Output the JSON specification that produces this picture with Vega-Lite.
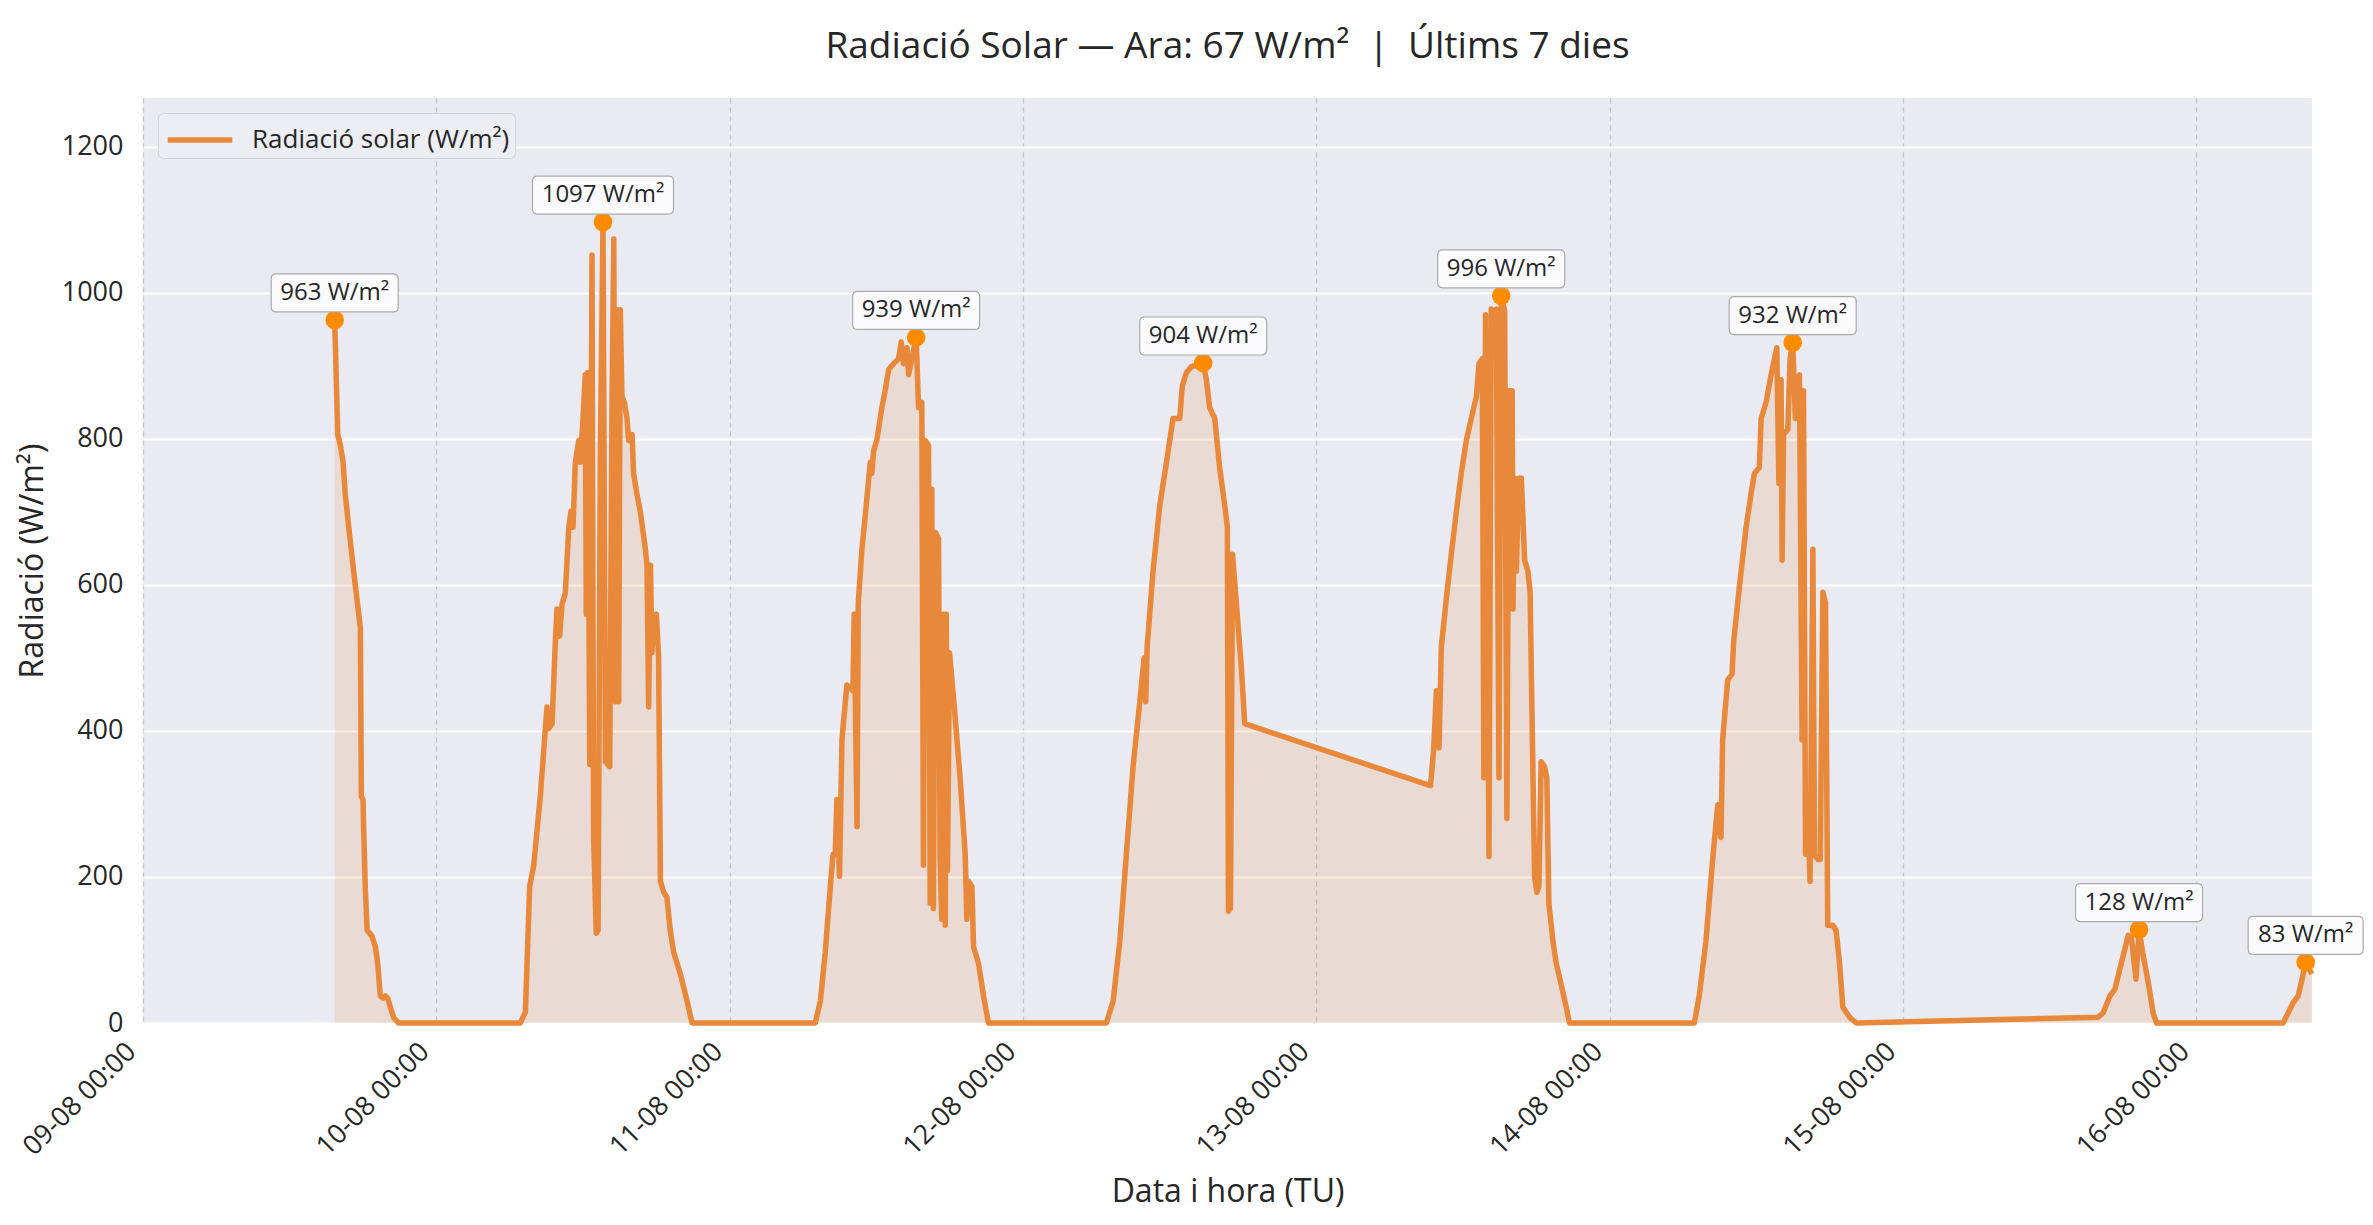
{
  "$schema": "https://vega.github.io/schema/vega-lite/v6.json",
  "width": 2169,
  "height": 925,
  "autosize": {"type": "none"},
  "padding": {"left": 143, "top": 98, "right": 61, "bottom": 202},
  "background": "white",
  "config": {
    "font": "Open Sans",
    "view": {"fill": "#EAEAF2", "stroke": null},
    "axis": {
      "domain": false,
      "ticks": false,
      "labelFontSize": 27,
      "labelColor": "#262626",
      "titleFontSize": 32,
      "titleFontWeight": "normal",
      "titleColor": "#262626"
    }
  },
  "title": {
    "text": "Radiació Solar — Ara: 67 W/m² \u00a0|\u00a0 Últims 7 dies",
    "fontSize": 37,
    "fontWeight": "normal",
    "color": "#262626",
    "anchor": "middle",
    "offset": 32
  },
  "data": {
    "format": {"parse": {"t": "date"}},
    "values": [
      {"t": "2025-08-09T15:41Z", "v": 963},
      {"t": "2025-08-09T15:56Z", "v": 806},
      {"t": "2025-08-09T16:09Z", "v": 791},
      {"t": "2025-08-09T16:22Z", "v": 769},
      {"t": "2025-08-09T16:33Z", "v": 724},
      {"t": "2025-08-09T16:50Z", "v": 679},
      {"t": "2025-08-09T17:14Z", "v": 619},
      {"t": "2025-08-09T17:39Z", "v": 560},
      {"t": "2025-08-09T17:47Z", "v": 541},
      {"t": "2025-08-09T17:52Z", "v": 310},
      {"t": "2025-08-09T18:00Z", "v": 306},
      {"t": "2025-08-09T18:03Z", "v": 269},
      {"t": "2025-08-09T18:11Z", "v": 187},
      {"t": "2025-08-09T18:20Z", "v": 127},
      {"t": "2025-08-09T18:44Z", "v": 119},
      {"t": "2025-08-09T19:01Z", "v": 104},
      {"t": "2025-08-09T19:12Z", "v": 82},
      {"t": "2025-08-09T19:25Z", "v": 37},
      {"t": "2025-08-09T19:38Z", "v": 34},
      {"t": "2025-08-09T19:50Z", "v": 37},
      {"t": "2025-08-09T20:01Z", "v": 34},
      {"t": "2025-08-09T20:14Z", "v": 22},
      {"t": "2025-08-09T20:31Z", "v": 7},
      {"t": "2025-08-09T20:55Z", "v": 0},
      {"t": "2025-08-10T06:52Z", "v": 0},
      {"t": "2025-08-10T07:17Z", "v": 15},
      {"t": "2025-08-10T07:38Z", "v": 187},
      {"t": "2025-08-10T07:58Z", "v": 216},
      {"t": "2025-08-10T08:31Z", "v": 313},
      {"t": "2025-08-10T09:03Z", "v": 433},
      {"t": "2025-08-10T09:11Z", "v": 403},
      {"t": "2025-08-10T09:28Z", "v": 410},
      {"t": "2025-08-10T09:44Z", "v": 522},
      {"t": "2025-08-10T09:52Z", "v": 567},
      {"t": "2025-08-10T10:05Z", "v": 530},
      {"t": "2025-08-10T10:17Z", "v": 574},
      {"t": "2025-08-10T10:33Z", "v": 589},
      {"t": "2025-08-10T10:50Z", "v": 679},
      {"t": "2025-08-10T11:01Z", "v": 701},
      {"t": "2025-08-10T11:11Z", "v": 679},
      {"t": "2025-08-10T11:22Z", "v": 768},
      {"t": "2025-08-10T11:39Z", "v": 798},
      {"t": "2025-08-10T11:47Z", "v": 768},
      {"t": "2025-08-10T12:00Z", "v": 828},
      {"t": "2025-08-10T12:11Z", "v": 888},
      {"t": "2025-08-10T12:16Z", "v": 560},
      {"t": "2025-08-10T12:23Z", "v": 891},
      {"t": "2025-08-10T12:33Z", "v": 354},
      {"t": "2025-08-10T12:44Z", "v": 1052},
      {"t": "2025-08-10T12:52Z", "v": 254},
      {"t": "2025-08-10T13:05Z", "v": 123},
      {"t": "2025-08-10T13:14Z", "v": 127},
      {"t": "2025-08-10T13:25Z", "v": 783},
      {"t": "2025-08-10T13:38Z", "v": 1097},
      {"t": "2025-08-10T13:50Z", "v": 358},
      {"t": "2025-08-10T14:11Z", "v": 351},
      {"t": "2025-08-10T14:22Z", "v": 843},
      {"t": "2025-08-10T14:31Z", "v": 1074},
      {"t": "2025-08-10T14:39Z", "v": 440},
      {"t": "2025-08-10T14:47Z", "v": 977},
      {"t": "2025-08-10T14:55Z", "v": 440},
      {"t": "2025-08-10T15:03Z", "v": 977},
      {"t": "2025-08-10T15:11Z", "v": 858},
      {"t": "2025-08-10T15:23Z", "v": 850},
      {"t": "2025-08-10T15:36Z", "v": 828},
      {"t": "2025-08-10T15:44Z", "v": 798},
      {"t": "2025-08-10T16:01Z", "v": 806},
      {"t": "2025-08-10T16:08Z", "v": 753},
      {"t": "2025-08-10T16:25Z", "v": 724},
      {"t": "2025-08-10T16:41Z", "v": 701},
      {"t": "2025-08-10T17:06Z", "v": 649},
      {"t": "2025-08-10T17:14Z", "v": 627},
      {"t": "2025-08-10T17:22Z", "v": 433},
      {"t": "2025-08-10T17:31Z", "v": 627},
      {"t": "2025-08-10T17:38Z", "v": 507},
      {"t": "2025-08-10T17:47Z", "v": 552},
      {"t": "2025-08-10T18:00Z", "v": 560},
      {"t": "2025-08-10T18:11Z", "v": 500},
      {"t": "2025-08-10T18:20Z", "v": 194},
      {"t": "2025-08-10T18:36Z", "v": 179},
      {"t": "2025-08-10T18:52Z", "v": 172},
      {"t": "2025-08-10T19:08Z", "v": 127},
      {"t": "2025-08-10T19:25Z", "v": 97},
      {"t": "2025-08-10T19:58Z", "v": 67},
      {"t": "2025-08-10T20:31Z", "v": 30},
      {"t": "2025-08-10T20:55Z", "v": 0},
      {"t": "2025-08-11T07:00Z", "v": 0},
      {"t": "2025-08-11T07:25Z", "v": 30},
      {"t": "2025-08-11T07:49Z", "v": 97},
      {"t": "2025-08-11T08:14Z", "v": 187},
      {"t": "2025-08-11T08:27Z", "v": 231},
      {"t": "2025-08-11T08:38Z", "v": 231},
      {"t": "2025-08-11T08:46Z", "v": 306},
      {"t": "2025-08-11T08:59Z", "v": 201},
      {"t": "2025-08-11T09:11Z", "v": 388},
      {"t": "2025-08-11T09:35Z", "v": 463},
      {"t": "2025-08-11T10:05Z", "v": 455},
      {"t": "2025-08-11T10:11Z", "v": 560},
      {"t": "2025-08-11T10:25Z", "v": 269},
      {"t": "2025-08-11T10:31Z", "v": 575},
      {"t": "2025-08-11T10:49Z", "v": 649},
      {"t": "2025-08-11T11:05Z", "v": 694},
      {"t": "2025-08-11T11:30Z", "v": 768},
      {"t": "2025-08-11T11:38Z", "v": 753},
      {"t": "2025-08-11T11:46Z", "v": 783},
      {"t": "2025-08-11T12:02Z", "v": 798},
      {"t": "2025-08-11T12:27Z", "v": 843},
      {"t": "2025-08-11T12:43Z", "v": 866},
      {"t": "2025-08-11T13:00Z", "v": 895},
      {"t": "2025-08-11T13:24Z", "v": 903},
      {"t": "2025-08-11T13:49Z", "v": 910},
      {"t": "2025-08-11T14:02Z", "v": 933},
      {"t": "2025-08-11T14:13Z", "v": 903},
      {"t": "2025-08-11T14:30Z", "v": 925},
      {"t": "2025-08-11T14:38Z", "v": 888},
      {"t": "2025-08-11T14:54Z", "v": 910},
      {"t": "2025-08-11T15:15Z", "v": 939},
      {"t": "2025-08-11T15:27Z", "v": 843},
      {"t": "2025-08-11T15:43Z", "v": 850},
      {"t": "2025-08-11T15:51Z", "v": 216},
      {"t": "2025-08-11T15:59Z", "v": 798},
      {"t": "2025-08-11T16:16Z", "v": 791},
      {"t": "2025-08-11T16:24Z", "v": 164},
      {"t": "2025-08-11T16:32Z", "v": 731},
      {"t": "2025-08-11T16:40Z", "v": 157},
      {"t": "2025-08-11T16:49Z", "v": 672},
      {"t": "2025-08-11T17:05Z", "v": 664},
      {"t": "2025-08-11T17:13Z", "v": 224},
      {"t": "2025-08-11T17:21Z", "v": 142},
      {"t": "2025-08-11T17:30Z", "v": 560},
      {"t": "2025-08-11T17:38Z", "v": 134},
      {"t": "2025-08-11T17:43Z", "v": 560},
      {"t": "2025-08-11T17:49Z", "v": 209},
      {"t": "2025-08-11T17:59Z", "v": 507},
      {"t": "2025-08-11T18:18Z", "v": 448},
      {"t": "2025-08-11T18:51Z", "v": 336},
      {"t": "2025-08-11T19:16Z", "v": 231},
      {"t": "2025-08-11T19:24Z", "v": 142},
      {"t": "2025-08-11T19:32Z", "v": 194},
      {"t": "2025-08-11T19:49Z", "v": 187},
      {"t": "2025-08-11T19:57Z", "v": 104},
      {"t": "2025-08-11T20:21Z", "v": 82},
      {"t": "2025-08-11T20:46Z", "v": 37},
      {"t": "2025-08-11T21:10Z", "v": 0},
      {"t": "2025-08-12T06:49Z", "v": 0},
      {"t": "2025-08-12T07:22Z", "v": 30},
      {"t": "2025-08-12T07:55Z", "v": 112},
      {"t": "2025-08-12T08:27Z", "v": 231},
      {"t": "2025-08-12T09:00Z", "v": 351},
      {"t": "2025-08-12T09:33Z", "v": 440},
      {"t": "2025-08-12T09:54Z", "v": 500},
      {"t": "2025-08-12T10:02Z", "v": 440},
      {"t": "2025-08-12T10:09Z", "v": 515},
      {"t": "2025-08-12T10:38Z", "v": 619},
      {"t": "2025-08-12T11:11Z", "v": 709},
      {"t": "2025-08-12T11:44Z", "v": 768},
      {"t": "2025-08-12T12:16Z", "v": 828},
      {"t": "2025-08-12T12:49Z", "v": 828},
      {"t": "2025-08-12T13:02Z", "v": 873},
      {"t": "2025-08-12T13:22Z", "v": 891},
      {"t": "2025-08-12T13:46Z", "v": 899},
      {"t": "2025-08-12T14:44Z", "v": 904},
      {"t": "2025-08-12T15:00Z", "v": 881},
      {"t": "2025-08-12T15:16Z", "v": 843},
      {"t": "2025-08-12T15:41Z", "v": 828},
      {"t": "2025-08-12T16:05Z", "v": 761},
      {"t": "2025-08-12T16:30Z", "v": 709},
      {"t": "2025-08-12T16:43Z", "v": 679},
      {"t": "2025-08-12T16:48Z", "v": 153},
      {"t": "2025-08-12T16:58Z", "v": 157},
      {"t": "2025-08-12T17:08Z", "v": 642},
      {"t": "2025-08-12T17:27Z", "v": 575},
      {"t": "2025-08-12T17:52Z", "v": 485},
      {"t": "2025-08-12T18:08Z", "v": 410},
      {"t": "2025-08-13T09:20Z", "v": 325},
      {"t": "2025-08-13T09:35Z", "v": 373},
      {"t": "2025-08-13T09:49Z", "v": 455},
      {"t": "2025-08-13T10:02Z", "v": 377},
      {"t": "2025-08-13T10:13Z", "v": 515},
      {"t": "2025-08-13T10:38Z", "v": 582},
      {"t": "2025-08-13T11:02Z", "v": 642},
      {"t": "2025-08-13T11:27Z", "v": 701},
      {"t": "2025-08-13T11:51Z", "v": 753},
      {"t": "2025-08-13T12:16Z", "v": 798},
      {"t": "2025-08-13T12:40Z", "v": 828},
      {"t": "2025-08-13T13:05Z", "v": 858},
      {"t": "2025-08-13T13:18Z", "v": 903},
      {"t": "2025-08-13T13:34Z", "v": 910},
      {"t": "2025-08-13T13:42Z", "v": 336},
      {"t": "2025-08-13T13:50Z", "v": 970},
      {"t": "2025-08-13T14:07Z", "v": 228},
      {"t": "2025-08-13T14:18Z", "v": 978},
      {"t": "2025-08-13T14:30Z", "v": 933},
      {"t": "2025-08-13T14:43Z", "v": 978},
      {"t": "2025-08-13T14:56Z", "v": 336},
      {"t": "2025-08-13T15:07Z", "v": 996},
      {"t": "2025-08-13T15:24Z", "v": 975},
      {"t": "2025-08-13T15:35Z", "v": 280},
      {"t": "2025-08-13T15:45Z", "v": 866},
      {"t": "2025-08-13T16:01Z", "v": 866},
      {"t": "2025-08-13T16:05Z", "v": 567},
      {"t": "2025-08-13T16:13Z", "v": 746},
      {"t": "2025-08-13T16:21Z", "v": 619},
      {"t": "2025-08-13T16:34Z", "v": 746},
      {"t": "2025-08-13T16:46Z", "v": 746},
      {"t": "2025-08-13T17:02Z", "v": 634},
      {"t": "2025-08-13T17:18Z", "v": 619},
      {"t": "2025-08-13T17:29Z", "v": 590},
      {"t": "2025-08-13T17:39Z", "v": 410},
      {"t": "2025-08-13T17:51Z", "v": 201},
      {"t": "2025-08-13T18:02Z", "v": 179},
      {"t": "2025-08-13T18:12Z", "v": 187},
      {"t": "2025-08-13T18:23Z", "v": 358},
      {"t": "2025-08-13T18:40Z", "v": 351},
      {"t": "2025-08-13T18:51Z", "v": 336},
      {"t": "2025-08-13T19:01Z", "v": 164},
      {"t": "2025-08-13T19:21Z", "v": 112},
      {"t": "2025-08-13T19:37Z", "v": 82},
      {"t": "2025-08-13T20:02Z", "v": 52},
      {"t": "2025-08-13T20:26Z", "v": 22},
      {"t": "2025-08-13T20:42Z", "v": 0},
      {"t": "2025-08-14T06:55Z", "v": 0},
      {"t": "2025-08-14T07:19Z", "v": 37},
      {"t": "2025-08-14T07:52Z", "v": 112},
      {"t": "2025-08-14T08:25Z", "v": 224},
      {"t": "2025-08-14T08:50Z", "v": 299},
      {"t": "2025-08-14T09:06Z", "v": 254},
      {"t": "2025-08-14T09:14Z", "v": 388},
      {"t": "2025-08-14T09:39Z", "v": 470},
      {"t": "2025-08-14T10:00Z", "v": 478},
      {"t": "2025-08-14T10:08Z", "v": 522},
      {"t": "2025-08-14T10:36Z", "v": 597},
      {"t": "2025-08-14T11:09Z", "v": 679},
      {"t": "2025-08-14T11:33Z", "v": 724},
      {"t": "2025-08-14T11:50Z", "v": 753},
      {"t": "2025-08-14T12:14Z", "v": 761},
      {"t": "2025-08-14T12:23Z", "v": 828},
      {"t": "2025-08-14T12:47Z", "v": 850},
      {"t": "2025-08-14T13:12Z", "v": 888},
      {"t": "2025-08-14T13:40Z", "v": 925},
      {"t": "2025-08-14T13:50Z", "v": 739},
      {"t": "2025-08-14T14:01Z", "v": 881},
      {"t": "2025-08-14T14:06Z", "v": 634},
      {"t": "2025-08-14T14:13Z", "v": 806},
      {"t": "2025-08-14T14:34Z", "v": 813},
      {"t": "2025-08-14T14:45Z", "v": 910},
      {"t": "2025-08-14T14:58Z", "v": 932},
      {"t": "2025-08-14T15:11Z", "v": 828},
      {"t": "2025-08-14T15:31Z", "v": 888},
      {"t": "2025-08-14T15:44Z", "v": 388},
      {"t": "2025-08-14T15:51Z", "v": 866},
      {"t": "2025-08-14T16:01Z", "v": 231},
      {"t": "2025-08-14T16:12Z", "v": 291},
      {"t": "2025-08-14T16:23Z", "v": 194},
      {"t": "2025-08-14T16:37Z", "v": 649},
      {"t": "2025-08-14T16:45Z", "v": 231},
      {"t": "2025-08-14T17:01Z", "v": 224},
      {"t": "2025-08-14T17:13Z", "v": 224},
      {"t": "2025-08-14T17:26Z", "v": 590},
      {"t": "2025-08-14T17:39Z", "v": 575},
      {"t": "2025-08-14T17:50Z", "v": 134},
      {"t": "2025-08-14T18:15Z", "v": 134},
      {"t": "2025-08-14T18:31Z", "v": 127},
      {"t": "2025-08-14T18:48Z", "v": 82},
      {"t": "2025-08-14T19:04Z", "v": 22},
      {"t": "2025-08-14T19:20Z", "v": 15},
      {"t": "2025-08-14T19:40Z", "v": 7},
      {"t": "2025-08-14T20:10Z", "v": 0},
      {"t": "2025-08-15T15:57Z", "v": 8},
      {"t": "2025-08-15T16:22Z", "v": 14},
      {"t": "2025-08-15T16:55Z", "v": 37},
      {"t": "2025-08-15T17:19Z", "v": 46},
      {"t": "2025-08-15T17:44Z", "v": 74},
      {"t": "2025-08-15T18:25Z", "v": 120},
      {"t": "2025-08-15T18:41Z", "v": 116},
      {"t": "2025-08-15T19:03Z", "v": 60},
      {"t": "2025-08-15T19:18Z", "v": 128},
      {"t": "2025-08-15T19:38Z", "v": 93},
      {"t": "2025-08-15T20:03Z", "v": 56},
      {"t": "2025-08-15T20:27Z", "v": 14},
      {"t": "2025-08-15T20:44Z", "v": 0},
      {"t": "2025-08-16T07:05Z", "v": 0},
      {"t": "2025-08-16T07:30Z", "v": 14},
      {"t": "2025-08-16T07:55Z", "v": 28},
      {"t": "2025-08-16T08:19Z", "v": 37},
      {"t": "2025-08-16T08:35Z", "v": 56},
      {"t": "2025-08-16T08:56Z", "v": 83},
      {"t": "2025-08-16T09:26Z", "v": 67}
    ]
  },
  "encoding": {
    "x": {
      "field": "t",
      "type": "temporal",
      "title": "Data i hora (TU)",
      "scale": {
        "type": "utc",
        "domain": [
          {"year": 2025, "month": 8, "date": 9, "hours": 0, "utc": true},
          {"year": 2025, "month": 8, "date": 16, "hours": 9, "minutes": 27, "utc": true}
        ]
      },
      "axis": {
        "values": [
          {"year": 2025, "month": 8, "date": 9, "utc": true},
          {"year": 2025, "month": 8, "date": 10, "utc": true},
          {"year": 2025, "month": 8, "date": 11, "utc": true},
          {"year": 2025, "month": 8, "date": 12, "utc": true},
          {"year": 2025, "month": 8, "date": 13, "utc": true},
          {"year": 2025, "month": 8, "date": 14, "utc": true},
          {"year": 2025, "month": 8, "date": 15, "utc": true},
          {"year": 2025, "month": 8, "date": 16, "utc": true}
        ],
        "labelExpr": "utcFormat(datum.value, '%d-%m %H:%M')",
        "labelAngle": -45,
        "labelAlign": "right",
        "labelBaseline": "top",
        "labelPadding": 15,
        "labelOffset": -21,
        "labelFlush": false,
        "labelOverlap": false,
        "gridColor": "#c4c4cc",
        "gridDash": [5, 4],
        "gridWidth": 1.3,
        "titlePadding": 17
      }
    }
  },
  "layer": [
    {
      "mark": {"type": "area", "color": "#e67e22", "opacity": 0.15},
      "encoding": {
        "y": {
          "field": "v",
          "type": "quantitative",
          "title": "Radiació (W/m²)",
          "scale": {"domain": [0, 1267], "nice": false},
          "axis": {
            "values": [0, 200, 400, 600, 800, 1000, 1200],
            "format": "d",
            "gridColor": "white",
            "gridWidth": 2,
            "labelPadding": 20,
            "titlePadding": 12
          }
        }
      }
    },
    {
      "mark": {"type": "line", "color": "#e8883a", "strokeWidth": 5.5, "strokeJoin": "round"},
      "encoding": {
        "y": {"field": "v", "type": "quantitative"},
        "stroke": {
          "datum": "Radiació solar (W/m²)",
          "type": "nominal",
          "scale": {"range": ["#e8883a"]},
          "legend": {
            "title": null,
            "orient": "top-left",
            "offset": 15,
            "symbolType": "M-1.7,0L1.7,0",
            "symbolSize": 1444,
            "symbolStrokeWidth": 5.5,
            "symbolOffset": 15,
            "labelFontSize": 26,
            "labelColor": "#262626",
            "labelOffset": 30,
            "labelLimit": 600,
            "padding": 5,
            "fillColor": "#EDEDF4",
            "strokeColor": "#d2d2da",
            "cornerRadius": 5
          }
        }
      }
    },
    {
      "transform": [
        {"timeUnit": "utcmonthdate", "field": "t", "as": "day"},
        {"joinaggregate": [{"op": "max", "field": "v", "as": "vmax"}], "groupby": ["day"]},
        {"filter": "datum.v === datum.vmax && datum.v > 0"},
        {"calculate": "datum.v + ' W/m²'", "as": "label"}
      ],
      "layer": [
        {
          "mark": {"type": "point", "shape": "circle", "filled": true, "size": 346, "color": "#ff8c00", "opacity": 1},
          "encoding": {"y": {"field": "v", "type": "quantitative"}}
        },
        {
          "mark": {"type": "point", "filled": true, "size": 40000, "fill": "#fcfcfd", "fillOpacity": 0.95, "stroke": "#aaaaaa", "strokeWidth": 1.2, "strokeOpacity": 1, "opacity": 1, "yOffset": -27},
          "encoding": {
            "y": {"field": "v", "type": "quantitative"},
            "shape": {
              "condition": [
                {"test": "datum.v >= 1000", "value": "M-0.655,-0.19L0.655,-0.19Q0.705,-0.19 0.705,-0.14L0.705,0.14Q0.705,0.19 0.655,0.19L-0.655,0.19Q-0.705,0.19 -0.705,0.14L-0.705,-0.14Q-0.705,-0.19 -0.655,-0.19Z"},
                {"test": "datum.v < 100", "value": "M-0.525,-0.19L0.525,-0.19Q0.575,-0.19 0.575,-0.14L0.575,0.14Q0.575,0.19 0.525,0.19L-0.525,0.19Q-0.575,0.19 -0.575,0.14L-0.575,-0.14Q-0.575,-0.19 -0.525,-0.19Z"}
              ],
              "value": "M-0.585,-0.19L0.585,-0.19Q0.635,-0.19 0.635,-0.14L0.635,0.14Q0.635,0.19 0.585,0.19L-0.585,0.19Q-0.635,0.19 -0.635,0.14L-0.635,-0.14Q-0.635,-0.19 -0.585,-0.19Z"
            }
          }
        },
        {
          "mark": {"type": "text", "fontSize": 24, "color": "#262626", "align": "center", "baseline": "middle", "yOffset": -27},
          "encoding": {
            "y": {"field": "v", "type": "quantitative"},
            "text": {"field": "label", "type": "nominal"}
          }
        }
      ]
    }
  ]
}
